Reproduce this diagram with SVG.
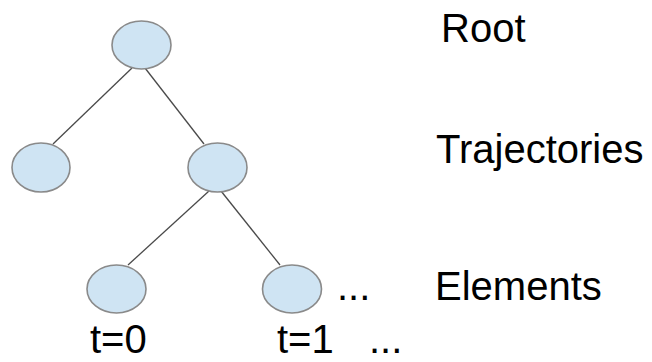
<svg xmlns="http://www.w3.org/2000/svg" width="652" height="362" viewBox="0 0 652 362">
<style>
.n{fill:#cfe4f3;stroke:#8a8a8a;stroke-width:1.6}
.e{stroke:#4a4a4a;stroke-width:1.3;fill:none}
.t{font-family:"Liberation Sans",Arial,sans-serif;font-size:40px;fill:#000}
</style>
<rect width="652" height="362" fill="#fff"/>
<g id="connectors">
<line class="e" x1="132" y1="68" x2="53" y2="144"/>
<line class="e" x1="145" y1="68" x2="204" y2="144"/>
<line class="e" x1="209" y1="191" x2="128" y2="265"/>
<line class="e" x1="221" y1="191" x2="280" y2="265"/>
</g>
<g id="root"><ellipse class="n" cx="141.5" cy="45" rx="29.5" ry="24"/></g>
<g id="traj1"><ellipse class="n" cx="41" cy="167.5" rx="29" ry="24.5"/></g>
<g id="traj2"><ellipse class="n" cx="217.5" cy="167.5" rx="29.5" ry="24.5"/></g>
<g id="elem0"><ellipse class="n" cx="116.5" cy="289" rx="29.5" ry="24"/></g>
<g id="elem1"><ellipse class="n" cx="292" cy="289" rx="29.5" ry="24"/></g>
<g id="labels">
<text class="t" x="441" y="42">Root</text>
<text class="t" x="436" y="163">Trajectories</text>
<text class="t" x="435" y="300">Elements</text>
<text class="t" x="337" y="300">...</text>
<text class="t" x="90" y="353">t=0</text>
<text class="t" x="277" y="353">t=1</text>
<text class="t" x="369" y="353">...</text>
</g>
</svg>
